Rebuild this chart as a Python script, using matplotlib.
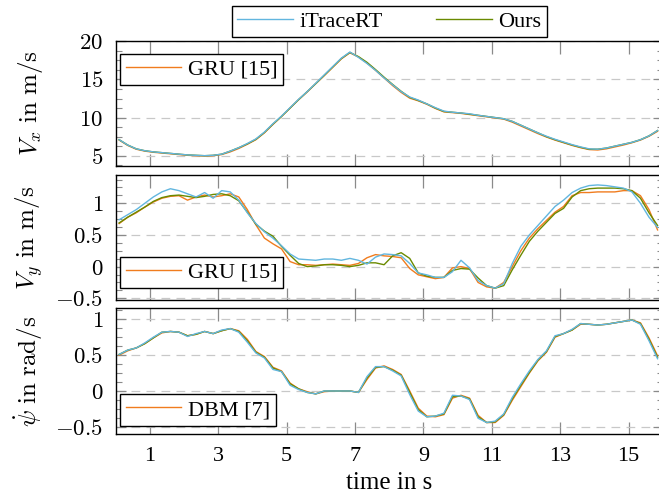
import matplotlib
matplotlib.use('Agg')
import matplotlib.pyplot as plt
import numpy as np
from matplotlib.ticker import AutoMinorLocator

plt.rcParams['font.family'] = ['Liberation Serif', 'DejaVu Serif']
plt.rcParams['mathtext.fontset'] = 'cm'

# sample times (s)
time_s = np.arange(0.1, 15.9, 0.25)

# longitudinal velocity Vx in m/s
vx_itrace = [7.1, 6.4, 5.9, 5.65, 5.5, 5.4, 5.3, 5.2, 5.1, 5.05, 5.0, 5.05, 5.2, 5.6, 6.05, 6.6,
             7.2, 8.1, 9.2, 10.2, 11.3, 12.4, 13.4, 14.5, 15.6, 16.7, 17.8, 18.6, 17.9, 17.1, 16.2, 15.2,
             14.3, 13.4, 12.7, 12.3, 11.8, 11.3, 10.85, 10.7, 10.6, 10.5, 10.3, 10.15, 10.0, 9.85, 9.5, 9.0,
             8.5, 8.0, 7.55, 7.15, 6.8, 6.45, 6.15, 5.9, 5.85, 6.0, 6.25, 6.5, 6.75, 7.1, 7.6, 8.3]
vx_ours = [7.1, 6.4, 5.9, 5.65, 5.5, 5.4, 5.3, 5.2, 5.1, 5.05, 5.0, 5.05, 5.2, 5.6, 6.05, 6.55,
           7.15, 8.05, 9.15, 10.15, 11.25, 12.35, 13.4, 14.45, 15.55, 16.65, 17.75, 18.55, 18.0, 17.25, 16.3, 15.3,
           14.35, 13.45, 12.65, 12.25, 11.8, 11.25, 10.8, 10.7, 10.6, 10.45, 10.3, 10.15, 10.0, 9.85, 9.5, 9.0,
           8.5, 8.0, 7.5, 7.1, 6.75, 6.4, 6.1, 5.85, 5.85, 6.0, 6.25, 6.5, 6.75, 7.1, 7.6, 8.3]
vx_gru = [7.05, 6.35, 5.85, 5.6, 5.45, 5.35, 5.25, 5.15, 5.05, 5.0, 4.95, 5.0, 5.15, 5.5, 5.95, 6.5,
          7.1, 8.0, 9.1, 10.15, 11.25, 12.35, 13.35, 14.45, 15.5, 16.6, 17.7, 18.5, 17.95, 17.15, 16.2, 15.2,
          14.2, 13.3, 12.55, 12.2, 11.75, 11.2, 10.75, 10.65, 10.55, 10.4, 10.25, 10.1, 9.95, 9.8, 9.4, 8.9,
          8.4, 7.9, 7.45, 7.05, 6.7, 6.35, 6.05, 5.8, 5.75, 5.9, 6.15, 6.4, 6.7, 7.05, 7.55, 8.2]

# lateral velocity Vy in m/s
vy_itrace = [0.74, 0.82, 0.9, 1.0, 1.1, 1.18, 1.23, 1.2, 1.15, 1.1, 1.17, 1.08, 1.2, 1.18, 1.05, 0.85,
             0.68, 0.55, 0.45, 0.33, 0.2, 0.12, 0.11, 0.1, 0.12, 0.12, 0.1, 0.13, 0.1, 0.04, 0.15, 0.2,
             0.19, 0.17, 0.05, -0.1, -0.13, -0.17, -0.17, -0.08, 0.1, -0.02, -0.22, -0.3, -0.34, -0.27, 0.05, 0.32,
             0.5, 0.65, 0.8, 0.95, 1.05, 1.17, 1.24, 1.28, 1.29, 1.28, 1.26, 1.24, 1.18, 1.0, 0.78, 0.62]
vy_ours = [0.69, 0.78, 0.86, 0.94, 1.03, 1.09, 1.12, 1.13, 1.11, 1.09, 1.11, 1.14, 1.15, 1.12, 1.04, 0.86,
           0.67, 0.56, 0.48, 0.32, 0.18, 0.05, 0.0, 0.01, 0.03, 0.03, 0.02, 0.0, 0.02, 0.06, 0.06, 0.03,
           0.17, 0.22, 0.13, -0.1, -0.15, -0.17, -0.17, -0.06, -0.03, -0.04, -0.18, -0.3, -0.34, -0.3, -0.05, 0.18,
           0.4, 0.56, 0.7, 0.84, 0.92, 1.1, 1.2, 1.23, 1.24, 1.24, 1.24, 1.23, 1.2, 1.08, 0.85, 0.65]
vy_gru = [0.68, 0.78, 0.85, 0.94, 1.02, 1.08, 1.11, 1.12, 1.05, 1.1, 1.13, 1.1, 1.12, 1.15, 1.1, 0.9,
          0.66, 0.45, 0.36, 0.28, 0.08, 0.03, 0.03, 0.02, 0.03, 0.04, 0.03, 0.02, 0.05, 0.14, 0.19, 0.17,
          0.16, 0.14, -0.03, -0.13, -0.16, -0.19, -0.17, -0.02, 0.0, -0.03, -0.25, -0.32, -0.34, -0.25, 0.0, 0.25,
          0.45, 0.6, 0.73, 0.86, 0.95, 1.12, 1.17, 1.17, 1.18, 1.18, 1.18, 1.2, 1.2, 1.12, 0.9, 0.58]

# yaw rate in rad/s
yaw_itrace = [0.51, 0.57, 0.6, 0.67, 0.75, 0.82, 0.83, 0.82, 0.76, 0.8, 0.83, 0.8, 0.85, 0.87, 0.82, 0.68,
              0.53, 0.46, 0.3, 0.27, 0.08, 0.02, -0.02, -0.04, 0.0, 0.0, 0.0, 0.0, -0.02, 0.2, 0.34, 0.34,
              0.28, 0.21, -0.05, -0.28, -0.36, -0.35, -0.31, -0.06, -0.07, -0.12, -0.38, -0.44, -0.42, -0.32, -0.09, 0.1,
              0.28, 0.44, 0.56, 0.77, 0.8, 0.86, 0.94, 0.93, 0.92, 0.93, 0.95, 0.97, 0.99, 0.93, 0.7, 0.45]
yaw_ours = [0.51, 0.57, 0.6, 0.66, 0.74, 0.82, 0.83, 0.82, 0.77, 0.79, 0.83, 0.8, 0.84, 0.87, 0.83, 0.7,
            0.54, 0.47, 0.32, 0.27, 0.1, 0.03, -0.02, -0.04, 0.0, 0.0, 0.0, 0.0, -0.02, 0.18, 0.33, 0.34,
            0.29, 0.22, -0.02, -0.26, -0.36, -0.35, -0.32, -0.08, -0.07, -0.11, -0.36, -0.44, -0.43, -0.33, -0.11, 0.08,
            0.26, 0.43, 0.55, 0.76, 0.8, 0.85, 0.94, 0.93, 0.92, 0.93, 0.95, 0.97, 0.99, 0.94, 0.72, 0.47]
yaw_dbm = [0.5, 0.56, 0.6, 0.66, 0.74, 0.81, 0.83, 0.82, 0.77, 0.79, 0.83, 0.8, 0.84, 0.87, 0.84, 0.72,
           0.55, 0.48, 0.33, 0.28, 0.11, 0.03, -0.01, -0.04, -0.01, 0.0, 0.0, 0.0, -0.02, 0.16, 0.32, 0.35,
           0.3, 0.23, 0.0, -0.24, -0.35, -0.36, -0.33, -0.1, -0.06, -0.1, -0.34, -0.44, -0.44, -0.34, -0.13, 0.06,
           0.25, 0.42, 0.54, 0.75, 0.8, 0.85, 0.93, 0.93, 0.92, 0.93, 0.95, 0.97, 0.99, 0.95, 0.74, 0.49]

x_ticks = [1, 3, 5, 7, 9, 11, 13, 15]
vx_ticks = [5, 10, 15, 20]
vel_ticks = [-0.5, 0, 0.5, 1]

c_itrace = '#62b6df'
c_ours = '#6a8a00'
c_ref = '#f07c1e'

fig = plt.figure(figsize=(6.59, 4.98), dpi=100)
left, width = 0.1756, 0.830
ax1 = fig.add_axes([left, 0.6667, width, 0.2510])
ax2 = fig.add_axes([left, 0.3976, width, 0.2510])
ax3 = fig.add_axes([left, 0.1285, width, 0.2530])

panels = [
    (ax1, vx_gru, vx_ours, vx_itrace, 'GRU [15]', vx_ticks, (3.65, 20.05), r'$V_x\ \mathrm{in\ m/s}$'),
    (ax2, vy_gru, vy_ours, vy_itrace, 'GRU [15]', vel_ticks, (-0.527, 1.447), r'$V_y\ \mathrm{in\ m/s}$'),
    (ax3, yaw_dbm, yaw_ours, yaw_itrace, 'DBM [7]', vel_ticks, (-0.60, 1.157), r'$\dot{\psi}\ \mathrm{in\ rad/s}$'),
]

for ax, ref, ours, itrace, ref_name, yt, ylim, ylab in panels:
    l_ref, = ax.plot(time_s, ref, color=c_ref, lw=1.0, label=ref_name)
    l_ours, = ax.plot(time_s, ours, color=c_ours, lw=1.0, label='Ours')
    l_it, = ax.plot(time_s, itrace, color=c_itrace, lw=1.0, label='iTraceRT')
    ax.set_xlim(0, 16)
    ax.set_ylim(*ylim)
    ax.set_xticks(x_ticks)
    ax.set_yticks(yt, labels=[r'$%g$' % v for v in yt])
    ax.yaxis.set_minor_locator(AutoMinorLocator(4))
    ax.grid(axis='y', which='major', color='#c8c8c8', linestyle=(0, (7, 5)), lw=0.9)
    ax.tick_params(axis='x', which='major', direction='in', top=True, length=9, width=0.9,
                   color='#8a8a8a', labelsize=16, pad=9)
    ax.tick_params(axis='y', which='major', direction='in', right=True, length=7, width=0.9,
                   color='#8a8a8a', labelsize=16.5, pad=9)
    ax.tick_params(axis='y', which='minor', direction='in', right=True, length=4.5, width=0.8,
                   color='#8a8a8a')
    for sp in ax.spines.values():
        sp.set_linewidth(1.0)
    ax.set_ylabel(ylab, fontsize=18)
    ax.yaxis.set_label_coords(-0.13, 0.5)
    if ax is ax1:
        loc, anchor = 'upper left', (0.008, 0.899)
    elif ax is ax2:
        loc, anchor = 'lower left', (0.008, 0.093)
    else:
        loc, anchor = 'lower left', (0.008, 0.066)
    leg = ax.legend(handles=[l_ref], loc=loc, bbox_to_anchor=anchor, borderaxespad=0,
                    fontsize=16, fancybox=False, edgecolor='black', framealpha=1,
                    handlelength=2.5, handletextpad=0.3, borderpad=0.25)
    leg.get_frame().set_linewidth(1.0)
    if ax is ax1:
        top_handles = [l_it, l_ours]

for ax in (ax1, ax2):
    ax.tick_params(axis='x', labelbottom=False)

ax3.set_xlabel('time in s', fontsize=18, labelpad=5)

leg = fig.legend(handles=top_handles, loc='lower center', ncol=2,
                 bbox_to_anchor=(0.5908, 0.925), borderaxespad=0, fontsize=16, fancybox=False,
                 edgecolor='black', framealpha=1, handlelength=2.5, handletextpad=0.3,
                 columnspacing=2.4, borderpad=0.25)
leg.get_frame().set_linewidth(1.0)

fig.savefig('out.png', dpi=100)
